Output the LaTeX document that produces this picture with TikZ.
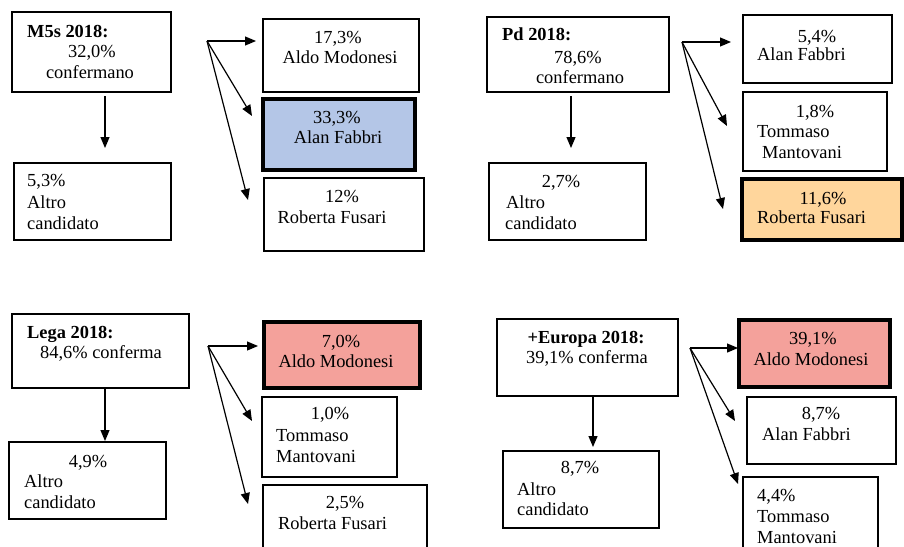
\documentclass[tikz,border=0pt]{standalone}
\usepackage{fontspec}
\setmainfont{Liberation Serif}
\usetikzlibrary{arrows.meta}
\definecolor{bluefill}{RGB}{180,198,231}
\definecolor{orangefill}{RGB}{255,214,156}
\definecolor{salmonfill}{RGB}{244,161,155}
\tikzset{
  box/.style={draw=black, line width=1.2pt, fill=white},
  hibox/.style={draw=black, line width=4.5pt},
  txt/.style={inner sep=0pt, font=\fontsize{18.4pt}{21pt}\selectfont},
  tl/.style={txt, anchor=base west},
  tc/.style={txt, anchor=base},
  arr/.style={line width=1.2pt, -{Triangle[length=11pt,width=9pt]}}
}
\begin{document}
\begin{tikzpicture}[x=1pt,y=-1pt]
\useasboundingbox (0,0) rectangle (904,546);
\clip (0,0) rectangle (904,546);
\fill[white] (0,0) rectangle (904,546);

% ---------- Panel 1: M5s ----------
\draw[box] (12,12) rectangle (171,92) coordinate (m5sBR);
\node[tl, font=\fontsize{18.4pt}{21pt}\selectfont\bfseries] (m5sT) at (27,37) {M5s 2018:};
\node[tc] (m5sP) at (92,57) {32,0\%};
\node[tc] (m5sC) at (90,78) {confermano};
\draw[box] (14,163) rectangle (171,240);
\node[tl] (m5sA1) at (27,186) {5,3\%};
\node[tl] (m5sA2) at (27,208) {Altro};
\node[tl] (m5sA3) at (27,229) {candidato};
\coordinate (m5sD1) at (105,96);
\coordinate (m5sD2) at (105,148);
\draw[arr] (m5sD1) -- (m5sD2);

\draw[box] (263,19) rectangle (419,92);
\node[tc] (m5sR1a) at (338,43) {17,3\%};
\node[tc] (m5sR1b) at (340,63) {Aldo Modonesi};
\draw[hibox, fill=bluefill] (263,99) rectangle (415,170);
\node[tc] (m5sR2a) at (337,123) {33,3\%};
\node[tc] (m5sR2b) at (338,143) {Alan Fabbri};
\draw[box] (264,178) rectangle (424,251);
\node[tc] (m5sR3a) at (342,202) {12\%};
\node[tc] (m5sR3b) at (332,223) {Roberta Fusari};
\coordinate (m5sO) at (207,41);
\coordinate (m5sE1) at (256,41);
\coordinate (m5sE2) at (252,116);
\coordinate (m5sE3) at (248,200);
\draw[arr] (m5sO) -- (m5sE1);
\draw[arr] (m5sO) -- (m5sE2);
\draw[arr] (m5sO) -- (m5sE3);

% ---------- Panel 2: Pd ----------
\draw[box] (487,17) rectangle (669,92);
\node[tl, font=\fontsize{18.4pt}{21pt}\selectfont\bfseries] (pdT) at (502,40) {Pd 2018:};
\node[tc] (pdP) at (578,63) {78,6\%};
\node[tc] (pdC) at (580,83) {confermano};
\draw[box] (489,163) rectangle (646,240);
\node[tc] (pdA1) at (561,187) {2,7\%};
\node[tl] (pdA2) at (506,208) {Altro};
\node[tl] (pdA3) at (505,229) {candidato};
\coordinate (pdD1) at (571,96);
\coordinate (pdD2) at (571,148);
\draw[arr] (pdD1) -- (pdD2);

\draw[box] (743,15) rectangle (892,83);
\node[tc] (pdR1a) at (817,42) {5,4\%};
\node[tl] (pdR1b) at (757,60) {Alan Fabbri};
\draw[box] (743,92) rectangle (887,171);
\node[tc] (pdR2a) at (815,117) {1,8\%};
\node[tl] (pdR2b) at (757,137) {Tommaso};
\node[tl] (pdR2c) at (762,158) {Mantovani};
\draw[hibox, fill=orangefill] (742,179) rectangle (902,240);
\node[tc] (pdR3a) at (823,204) {11,6\%};
\node[tl] (pdR3b) at (757,223) {Roberta Fusari};
\coordinate (pdO) at (682,42);
\coordinate (pdE1) at (731,42);
\coordinate (pdE2) at (727,126);
\coordinate (pdE3) at (723,209);
\draw[arr] (pdO) -- (pdE1);
\draw[arr] (pdO) -- (pdE2);
\draw[arr] (pdO) -- (pdE3);

% ---------- Panel 3: Lega ----------
\draw[box] (12,314) rectangle (189,388);
\node[tl, font=\fontsize{18.4pt}{21pt}\selectfont\bfseries] (legT) at (27,338) {Lega 2018:};
\node[tl] (legP) at (40,358) {84,6\% conferma};
\draw[box] (9,442) rectangle (166,519);
\node[tc] (legA1) at (88,467) {4,9\%};
\node[tl] (legA2) at (24,487) {Altro};
\node[tl] (legA3) at (24,508) {candidato};
\coordinate (legD1) at (105,388);
\coordinate (legD2) at (105,441);
\draw[arr] (legD1) -- (legD2);

\draw[hibox, fill=salmonfill] (264,322) rectangle (420,388);
\node[tc] (legR1a) at (341,347) {7,0\%};
\node[tc] (legR1b) at (336,367) {Aldo Modonesi};
\draw[box] (262,397) rectangle (397,477);
\node[tc] (legR2a) at (330,419) {1,0\%};
\node[tl] (legR2b) at (276,441) {Tommaso};
\node[tl] (legR2c) at (276,462) {Mantovani};
\draw[box] (263,485) rectangle (427,570);
\node[tc] (legR3a) at (345,508) {2,5\%};
\node[tl] (legR3b) at (278,529) {Roberta Fusari};
\coordinate (legO) at (208,346);
\coordinate (legE1) at (258,346);
\coordinate (legE2) at (252,421);
\coordinate (legE3) at (248,504);
\draw[arr] (legO) -- (legE1);
\draw[arr] (legO) -- (legE2);
\draw[arr] (legO) -- (legE3);

% ---------- Panel 4: +Europa ----------
\draw[box] (497,319) rectangle (678,396);
\node[tc, font=\fontsize{18.4pt}{21pt}\selectfont\bfseries] (euT) at (586,343) {+Europa 2018:};
\node[tc] (euP) at (587,363) {39,1\% conferma};
\draw[box] (503,451) rectangle (659,528);
\node[tc] (euA1) at (580,473) {8,7\%};
\node[tl] (euA2) at (517,495) {Altro};
\node[tl] (euA3) at (517,515) {candidato};
\coordinate (euD1) at (593,396);
\coordinate (euD2) at (593,447);
\draw[arr] (euD1) -- (euD2);

\draw[hibox, fill=salmonfill] (739,320) rectangle (890,387);
\node[tc] (euR1a) at (813,344) {39,1\%};
\node[tc] (euR1b) at (811,365) {Aldo Modonesi};
\draw[box] (747,397) rectangle (896,464);
\node[tc] (euR2a) at (821,419) {8,7\%};
\node[tl] (euR2b) at (762,440) {Alan Fabbri};
\draw[box] (743,477) rectangle (878,570);
\node[tl] (euR3a) at (757,501) {4,4\%};
\node[tl] (euR3b) at (757,522) {Tommaso};
\node[tl] (euR3c) at (757,543) {Mantovani};
\coordinate (euO) at (690,348);
\coordinate (euE1) at (738,348);
\coordinate (euE2) at (735,421);
\coordinate (euE3) at (738,484);
\draw[arr] (euO) -- (euE1);
\draw[arr] (euO) -- (euE2);
\draw[arr] (euO) -- (euE3);
\end{tikzpicture}
\end{document}
